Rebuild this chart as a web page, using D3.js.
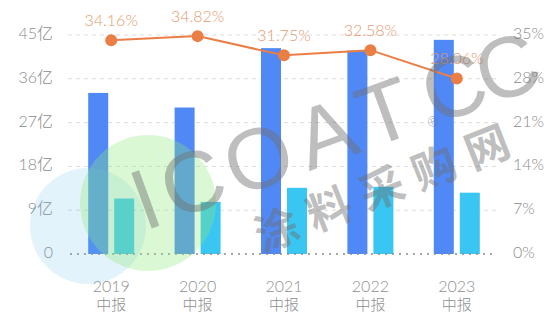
<!DOCTYPE html>
<html>
<head>
<meta charset="utf-8">
<script src="https://cdn.jsdelivr.net/npm/d3@7"></script>
<style>
  html, body { margin: 0; padding: 0; background: #fff; }
  svg { display: block; }
  .lbl { font-family: "Lato", "Noto Sans CJK SC", sans-serif; font-weight: 300; }
</style>
</head>
<body>
<svg id="chart" width="560" height="327"></svg>
<script>
// Half-year reports: revenue and gross profit (亿元), gross margin (%)
const categories = ["2019", "2020", "2021", "2022", "2023"];
const periodSuffix = "中报";
const revenue = [33.1, 30.1, 42.3, 41.8, 44.0];
const grossProfit = [11.4, 10.7, 13.6, 13.8, 12.6];
const grossMargin = [34.16, 34.82, 31.75, 32.58, 28.06];
const leftTicks = [0, 9, 18, 27, 36, 45];
const leftTickLabels = ["0", "9亿", "18亿", "27亿", "36亿", "45亿"];
const rightTicks = [0, 7, 14, 21, 28, 35];
const rightTickLabels = ["0%", "7%", "14%", "21%", "28%", "35%"];

const svg = d3.select("#chart");
const plot = { left: 68, right: 500, top: 35, bottom: 254 };

const x = d3.scaleBand().domain(categories).range([plot.left, plot.right]).padding(0);
const sub = d3.scaleBand().domain(["revenue", "gross"]).range([-23, 23]).paddingInner(6 / 26);
const yL = d3.scaleLinear().domain([0, 45]).range([plot.bottom, plot.top]);
const yR = d3.scaleLinear().domain([0, 35]).range([plot.bottom, plot.top]);

const colors = { revenue: "#5089f6", gross: "#3ac6f2", line: "#ea7e45", label: "#e59a70", axis: "#8c8c8c" };

// Dashed horizontal grid
svg.append("g").selectAll("line")
  .data(leftTicks.filter(d => d > 0))
  .join("line")
  .attr("x1", plot.left).attr("x2", plot.right)
  .attr("y1", d => yL(d)).attr("y2", d => yL(d))
  .attr("stroke", "#dcdcdc").attr("stroke-width", 1).attr("stroke-dasharray", "4,4");

// Left axis labels
const leftAxis = d3.axisLeft(yL).tickValues(leftTicks)
  .tickFormat((d, i) => leftTickLabels[i]).tickSize(0).tickPadding(15);
const gL = svg.append("g").attr("transform", `translate(${plot.left},0)`).call(leftAxis);
gL.select(".domain").remove();
gL.selectAll("text").attr("class", "lbl").attr("font-size", 16).attr("fill", colors.axis)
  .attr("dy", "0.22em");

// Right axis labels
const rightAxis = d3.axisRight(yR).tickValues(rightTicks)
  .tickFormat((d, i) => rightTickLabels[i]).tickSize(0).tickPadding(13);
const gR = svg.append("g").attr("transform", `translate(${plot.right},0)`).call(rightAxis);
gR.select(".domain").remove();
gR.selectAll("text").attr("class", "lbl").attr("font-size", 16).attr("fill", colors.axis)
  .attr("dy", "0.22em");

// Bars
const groups = svg.append("g").selectAll("g")
  .data(categories)
  .join("g")
  .attr("transform", d => `translate(${x(d) + x.bandwidth() / 2},0)`);

groups.append("rect")
  .attr("x", sub("revenue")).attr("width", sub.bandwidth())
  .attr("y", (d, i) => yL(revenue[i]))
  .attr("height", (d, i) => yL(0) - yL(revenue[i]))
  .attr("fill", colors.revenue);

groups.append("rect")
  .attr("x", sub("gross")).attr("width", sub.bandwidth())
  .attr("y", (d, i) => yL(grossProfit[i]))
  .attr("height", (d, i) => yL(0) - yL(grossProfit[i]))
  .attr("fill", colors.gross);

// Dotted baseline
svg.append("line")
  .attr("x1", plot.left + 2).attr("x2", plot.right - 3)
  .attr("y1", yL(0)).attr("y2", yL(0))
  .attr("stroke", "#8a8a8a").attr("stroke-width", 1.6).attr("stroke-dasharray", "2,5");

// X axis labels (two lines)
const xAxis = d3.axisBottom(x).tickSize(0).tickFormat("");
const gX = svg.append("g").attr("transform", `translate(0,${plot.bottom})`).call(xAxis);
gX.select(".domain").remove();
gX.selectAll(".tick").each(function (d) {
  const g = d3.select(this);
  g.append("text").attr("class", "lbl").attr("text-anchor", "middle")
    .attr("font-size", 16).attr("fill", "#8f8f8f")
    .attr("y", 38).text(d);
  g.append("text").attr("class", "lbl").attr("text-anchor", "middle")
    .attr("font-size", 15).attr("fill", "#8f8f8f")
    .attr("y", 56).text(periodSuffix);
});

// Gross margin line
const cx = d => x(d) + x.bandwidth() / 2;
const line = d3.line().x((d, i) => cx(categories[i])).y(d => yR(d));
svg.append("path").datum(grossMargin)
  .attr("d", line).attr("fill", "none")
  .attr("stroke", colors.line).attr("stroke-width", 2);

svg.append("g").selectAll("circle")
  .data(grossMargin).join("circle")
  .attr("cx", (d, i) => cx(categories[i])).attr("cy", d => yR(d))
  .attr("r", 6).attr("fill", colors.line);

svg.append("g").selectAll("text")
  .data(grossMargin).join("text")
  .attr("class", "lbl")
  .attr("x", (d, i) => cx(categories[i])).attr("y", d => yR(d) - 14)
  .attr("text-anchor", "middle").attr("font-size", 16)
  .attr("fill", colors.label)
  .text(d => d.toFixed(2) + "%");

// Watermark overlay
const wm = svg.append("g").attr("pointer-events", "none");
wm.append("circle").attr("cx", 88).attr("cy", 226).attr("r", 58)
  .attr("fill", "rgb(100,190,240)").attr("fill-opacity", 0.18);
wm.append("circle").attr("cx", 148).attr("cy", 203).attr("r", 68)
  .attr("fill", "rgb(140,235,120)").attr("fill-opacity", 0.33);

function placeAlong(chars, origin, angleDeg, offsets, size, weight, family) {
  const a = angleDeg * Math.PI / 180;
  chars.forEach((ch, i) => {
    const px = origin[0] + offsets[i] * Math.cos(a);
    const py = origin[1] - offsets[i] * Math.sin(a);
    wm.append("text")
      .attr("transform", `translate(${px},${py}) rotate(${-angleDeg})`)
      .attr("text-anchor", "middle").attr("dy", "0.36em")
      .attr("font-family", family).attr("font-weight", weight)
      .attr("font-size", size).attr("fill", "#6e6e6e").attr("fill-opacity", 0.45)
      .text(ch);
  });
}
const latin = "Liberation Sans, Arial, sans-serif";
placeAlong(["I", "C", "O", "A", "T"], [145, 198], 20, [0, 50, 120, 192, 255], 86, 400, latin);
placeAlong(["C", "C"], [145, 198], 20, [328, 385], 86, 400, latin);
wm.append("text")
  .attr("transform", "translate(433,121) rotate(-20)")
  .attr("text-anchor", "middle").attr("dy", "0.36em")
  .attr("font-family", latin).attr("font-size", 15)
  .attr("fill", "#6e6e6e").attr("fill-opacity", 0.45).text("®");
placeAlong(["涂", "料", "采", "购", "网"], [277, 230], 21.5, [0, 56, 113, 169, 226], 44, 700,
  "Noto Sans CJK SC, sans-serif");
</script>
</body>
</html>
